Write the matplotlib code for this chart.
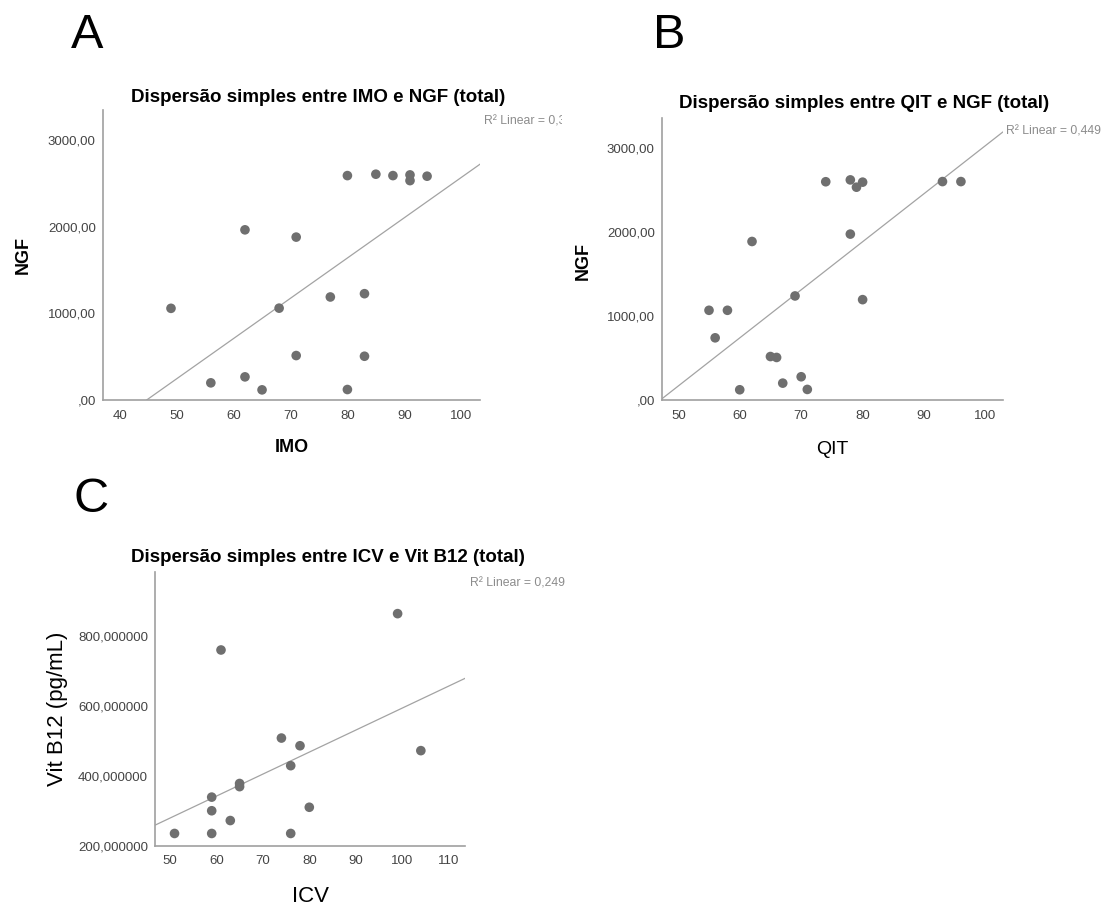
import numpy as np
import matplotlib
matplotlib.use('Agg')
import matplotlib.pyplot as plt
from matplotlib.transforms import Bbox, TransformedBbox

# valores
imo = [49, 56, 62, 62, 65, 68, 71, 71, 77, 80, 80, 83, 83, 85, 88, 91, 91, 94]
ngf_imo = [1058, 198, 267, 1964, 117, 1060, 513, 1880, 1189, 121, 2590, 1227, 505, 2606, 2590, 2598, 2532, 2583]

qit = [55, 56, 58, 60, 62, 65, 66, 67, 69, 70, 71, 74, 78, 78, 79, 80, 80, 93, 96]
ngf_qit = [1069, 741, 1069, 122, 1889, 518, 507, 201, 1240, 277, 126, 2601, 2623, 1977, 2536, 2596, 1196, 2603, 2603]

icv = [51, 59, 59, 59, 61, 63, 65, 65, 74, 76, 76, 78, 80, 99, 104]
b12 = [235, 235, 300, 339, 760, 272, 369, 378, 508, 235, 429, 486, 310, 864, 472]

imo_ticks = [40, 50, 60, 70, 80, 90, 100]
qit_ticks = [50, 60, 70, 80, 90, 100]
icv_ticks = [50, 60, 70, 80, 90, 100, 110]
ngf_ticks = [0, 1000, 2000, 3000]
ngf_labels = [',00', '1000,00', '2000,00', '3000,00']
b12_ticks = [200, 400, 600, 800]
b12_labels = ['200,000000', '400,000000', '600,000000', '800,000000']

plt.rcParams['font.family'] = ['Liberation Sans', 'DejaVu Sans']

W, H = 1105, 908
fig = plt.figure(figsize=(W / 100, H / 100), dpi=100)


def box(left, top, right, bottom):
    return [left / W, 1 - bottom / H, (right - left) / W, (bottom - top) / H]


def ftext(x, y, s, **kw):
    return fig.text(x / W, 1 - y / H, s, **kw)


def panel(rect, x, y, xlim, ylim, xticks, yticks, ylabels):
    ax = fig.add_axes(rect)
    ax.scatter(x, y, s=48, color='#6f6f6f', edgecolors='none', zorder=3)
    coef = np.polyfit(x, y, 1)
    xs = np.array(xlim)
    ax.plot(xs, np.polyval(coef, xs), color='#a3a3a3', lw=0.9, zorder=2)
    ax.set_xlim(xlim)
    ax.set_ylim(ylim)
    ax.set_xticks(xticks)
    ax.set_xticklabels([str(t) for t in xticks])
    ax.set_yticks(yticks)
    ax.set_yticklabels(ylabels)
    ax.tick_params(length=0, labelsize=9.5, labelcolor='#444444')
    ax.tick_params(axis='x', pad=7)
    ax.tick_params(axis='y', pad=5)
    for side in ['top', 'right']:
        ax.spines[side].set_visible(False)
    for side in ['left', 'bottom']:
        ax.spines[side].set_color('#a0a0a0')
        ax.spines[side].set_linewidth(1.2)
    return ax


# A
panel(box(102.7, 110, 480, 400), imo, ngf_imo, (37.0, 103.3), (0, 3347),
      imo_ticks, ngf_ticks, ngf_labels)
ftext(71, 48, 'A', fontsize=35)
ftext(131, 101.5, 'Dispersão simples entre IMO e NGF (total)', fontsize=13.5, fontweight='bold')
ftext(23, 255, 'NGF', fontsize=13, fontweight='bold', rotation=90, ha='center', va='center')
ftext(291.5, 447, 'IMO', fontsize=13, fontweight='bold', ha='center', va='center')
ra = ftext(484, 121, 'R² Linear = 0,335', fontsize=8.8, color='#8c8c8c', va='center')
ra.set_clip_box(TransformedBbox(Bbox([[0, 0], [562 / W, 1]]), fig.transFigure))
ra.set_clip_on(True)

# B
panel(box(661.7, 118.3, 1002.7, 400), qit, ngf_qit, (47.3, 102.8), (0, 3357),
      qit_ticks, ngf_ticks, ngf_labels)
ftext(653, 48, 'B', fontsize=35)
ftext(679, 108, 'Dispersão simples entre QIT e NGF (total)', fontsize=13.5, fontweight='bold')
ftext(583, 261, 'NGF', fontsize=13, fontweight='bold', rotation=90, ha='center', va='center')
ftext(832, 450, 'QIT', fontsize=14, ha='center', va='center')
ftext(1006, 131, 'R² Linear = 0,449', fontsize=8.8, color='#8c8c8c', va='center')

# C
panel(box(155, 571.7, 465, 845.7), icv, b12, (46.8, 113.5), (200, 984),
      icv_ticks, b12_ticks, b12_labels)
ftext(73, 512, 'C', fontsize=35)
ftext(131, 561.5, 'Dispersão simples entre ICV e Vit B12 (total)', fontsize=13.5, fontweight='bold')
ftext(58, 709, 'Vit B12 (pg/mL)', fontsize=16, rotation=90, ha='center', va='center')
ftext(310, 896, 'ICV', fontsize=16, ha='center', va='center')
ftext(470, 583, 'R² Linear = 0,249', fontsize=8.8, color='#8c8c8c', va='center')

fig.savefig('out.png', dpi=100, facecolor='white')
